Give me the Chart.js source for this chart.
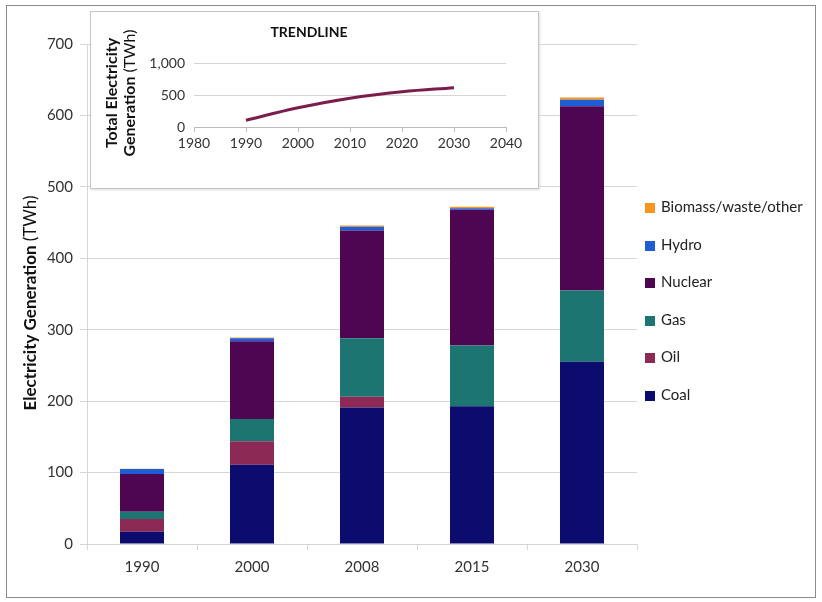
<!DOCTYPE html>
<html>
<head>
<meta charset="utf-8">
<script src="https://cdn.jsdelivr.net/npm/chart.js@4"></script>
<style>
  body { margin: 0; background: #fff; font-family: Lato, sans-serif; }
  #wrap { position: relative; width: 822px; height: 602px; }
  #frame { position: absolute; left: 6px; top: 5px; width: 808px; height: 591px; border: 1px solid #8a8a8a; }
  #main { position: absolute; left: 0; top: 0; }
  #insetBox { position: absolute; left: 90px; top: 11px; width: 447px; height: 176px; background: #fff; border: 1px solid #c4c4c4; box-shadow: 1px 1px 2px #ddd; }
  #inset { position: absolute; left: 0; top: 0; }
  #legend { position: absolute; left: 645px; top: 0; }
  .item { position: absolute; left: 0; white-space: nowrap; font-size: 15px; color: #222; height: 20px; line-height: 20px; }
  .item span { display: inline-block; width: 10px; height: 10px; margin-right: 6px; vertical-align: -1px; }
</style>
</head>
<body>
<div id="wrap">
  <div id="frame"></div>
  <canvas id="main" width="822" height="602"></canvas>
  <div id="insetBox"><canvas id="inset" width="447" height="176"></canvas></div>
  <div id="legend"></div>
</div>
<script>
// ---------------- Data ----------------
const years = ['1990', '2000', '2008', '2015', '2030'];
const coal    = [17, 111, 191, 193, 255];
const oil     = [18, 33, 15, 0, 0];
const gas     = [10, 31, 82, 85, 100];
const nuclear = [53, 109, 151, 190, 258];
const hydro   = [7, 4, 5, 2, 9];
const biomass = [0.5, 1, 2, 2, 3];

const seriesNames  = ['Coal', 'Oil', 'Gas', 'Nuclear', 'Hydro', 'Biomass/waste/other'];
const seriesColors = ['#0c0b6e', '#8c2a55', '#1c7571', '#4e0552', '#1d5ed6', '#f7941e'];
const seriesValues = [coal, oil, gas, nuclear, hydro, biomass];

const yTicks = [0, 100, 200, 300, 400, 500, 600, 700];

// trendline (inset)
const trendYears  = [1990, 2000, 2010, 2020, 2030];
const trendValues = [105, 300, 450, 550, 615];
const trendXTicks = [1980, 1990, 2000, 2010, 2020, 2030, 2040];
const trendYTicks = [0, 500, 1000];

const tickColor = '#333';
const gridColor = '#d6d6d6';

// ---------------- Main chart ----------------
const yTitle = {
    id: 'yTitle',
    afterDraw(chart) {
        const ctx = chart.ctx;
        ctx.save();
        ctx.translate(31, 303);
        ctx.rotate(-Math.PI / 2);
        ctx.textBaseline = 'middle';
        ctx.fillStyle = '#111';
        const a = 'Electricity Generation ', b = '(TWh)';
        ctx.font = 'bold 17px Lato';
        const wa = ctx.measureText(a).width;
        ctx.font = '17px Lato';
        const wb = ctx.measureText(b).width;
        let x = -(wa + wb) / 2;
        ctx.font = 'bold 17px Lato';
        ctx.fillText(a, x, 0);
        ctx.font = '17px Lato';
        ctx.fillText(b, x + wa, 0);
        ctx.restore();
    }
};

new Chart(document.getElementById('main'), {
    type: 'bar',
    data: {
        labels: years,
        datasets: seriesNames.map((n, i) => ({
            label: n, data: seriesValues[i], backgroundColor: seriesColors[i],
            barPercentage: 0.4, categoryPercentage: 1
        }))
    },
    options: {
        responsive: false, animation: false,
        layout: { padding: { left: 40, right: 185, top: 44, bottom: 18 } },
        plugins: { legend: { display: false }, tooltip: { enabled: false } },
        scales: {
            x: {
                stacked: true,
                grid: { drawOnChartArea: false, drawTicks: true, tickLength: 6, color: gridColor },
                border: { color: gridColor },
                ticks: { color: tickColor, font: { family: 'Lato', size: 15 }, padding: 8 },
                afterFit: s => { s.height = 40; }
            },
            y: {
                stacked: true, min: 0, max: 700,
                afterBuildTicks: s => { s.ticks = yTicks.map(v => ({ value: v })); },
                grid: { color: gridColor, tickLength: 7 },
                border: { color: gridColor },
                ticks: { color: tickColor, font: { family: 'Lato', size: 15 }, padding: 7 },
                afterFit: s => { s.width = 47; }
            }
        }
    },
    plugins: [yTitle]
});

// ---------------- Legend ----------------
const legend = document.getElementById('legend');
seriesNames.slice().reverse().forEach((n, i) => {
    const c = seriesColors[seriesNames.length - 1 - i];
    legend.innerHTML += `<div class="item" style="top:${196 + i * 37.5}px"><span style="background:${c}"></span>${n}</div>`;
});

// ---------------- Inset trendline ----------------
const insetText = {
    id: 'insetText',
    afterDraw(chart) {
        const ctx = chart.ctx;
        ctx.save();
        ctx.fillStyle = '#111';
        ctx.textAlign = 'center';
        ctx.textBaseline = 'middle';
        ctx.font = 'bold 14px Lato';
        ctx.fillText('TRENDLINE', 218, 20);
        ctx.translate(21, 81);
        ctx.rotate(-Math.PI / 2);
        ctx.font = 'bold 16px Lato';
        ctx.fillText('Total Electricity', 0, 0);
        const a = 'Generation ', b = '(TWh)';
        const wa = ctx.measureText(a).width;
        ctx.font = '16px Lato';
        const wb = ctx.measureText(b).width;
        ctx.textAlign = 'left';
        ctx.font = 'bold 16px Lato';
        ctx.fillText(a, -(wa + wb) / 2, 18);
        ctx.font = '16px Lato';
        ctx.fillText(b, -(wa + wb) / 2 + wa, 18);
        ctx.restore();
    }
};

new Chart(document.getElementById('inset'), {
    type: 'line',
    data: {
        datasets: [{
            data: trendYears.map((y, i) => ({ x: y, y: trendValues[i] })),
            borderColor: '#7b1d4c', borderWidth: 3, pointRadius: 0, tension: 0.4, fill: false
        }]
    },
    options: {
        responsive: false, animation: false,
        layout: { padding: { left: 57, right: 32, top: 51, bottom: 33 } },
        plugins: { legend: { display: false }, tooltip: { enabled: false } },
        scales: {
            x: {
                type: 'linear', min: 1980, max: 2040,
                afterBuildTicks: s => { s.ticks = trendXTicks.map(v => ({ value: v })); },
                grid: { drawOnChartArea: false, tickLength: 5, color: '#bbb' },
                border: { color: '#bbb' },
                ticks: { color: tickColor, font: { family: 'Lato', size: 14 }, padding: 3, callback: v => String(v) },
                afterFit: s => { s.height = 28; }
            },
            y: {
                min: 0, max: 1000,
                afterBuildTicks: s => { s.ticks = trendYTicks.map(v => ({ value: v })); },
                grid: { color: gridColor, drawTicks: false },
                border: { display: false },
                ticks: { color: tickColor, font: { family: 'Lato', size: 14 }, padding: 9, callback: v => v.toLocaleString('en-US') },
                afterFit: s => { s.width = 46; }
            }
        }
    },
    plugins: [insetText]
});
</script>
</body>
</html>
